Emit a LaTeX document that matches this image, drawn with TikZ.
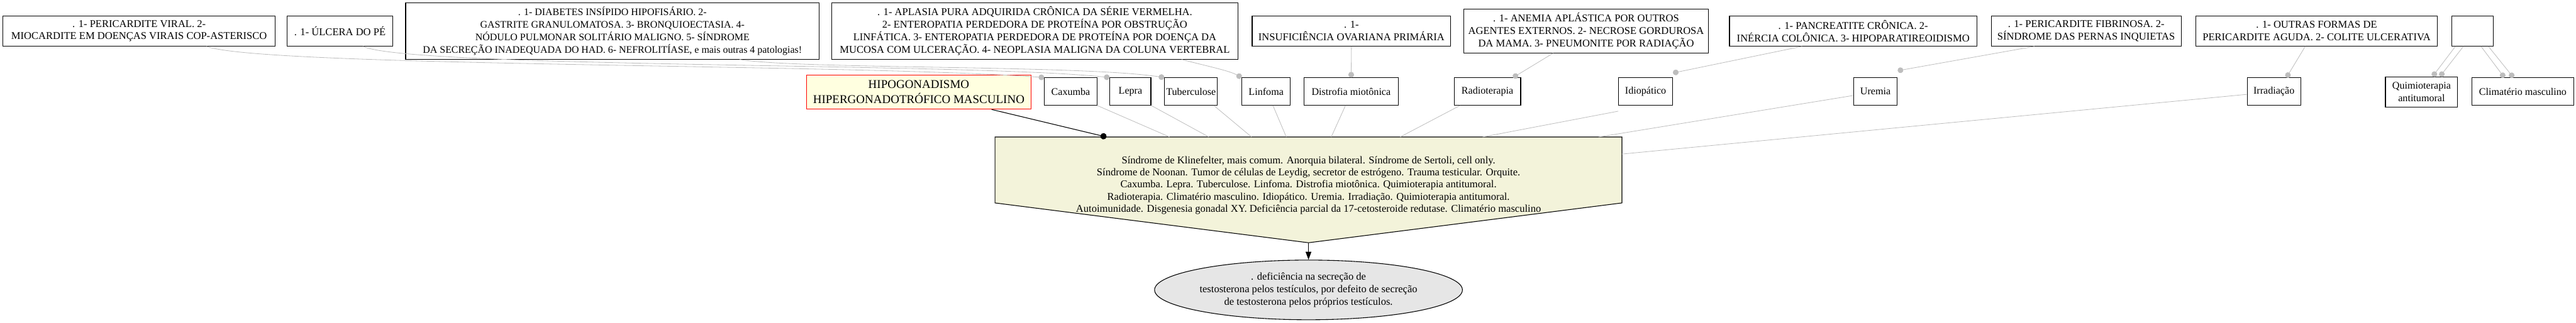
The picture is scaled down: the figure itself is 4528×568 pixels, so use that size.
\documentclass[tikz,border=0pt]{standalone}
\usepackage{fontspec}
\setmainfont{Liberation Serif}
\usetikzlibrary{shapes.geometric,arrows.meta}
\definecolor{edgegray}{HTML}{BDBDBD}
\definecolor{pentfill}{HTML}{F3F3DA}
\definecolor{hipofill}{HTML}{FFFFE0}
\definecolor{ellfill}{HTML}{E6E6E6}
\tikzset{
  topbox/.style={draw=black,line width=1.2pt,fill=white,inner sep=0pt,align=center,font=\fontsize{18.3}{22}\selectfont},
  midbox/.style={draw=black,line width=1.2pt,fill=white,inner sep=0pt,align=center,font=\fontsize{17.8}{22}\selectfont,minimum height=48pt},
  grayedge/.style={draw=edgegray,line width=0.9pt},
  dotedge/.style={grayedge,-{Circle[length=10pt,width=10pt,fill=edgegray,color=edgegray]}},
  blackedge/.style={draw=black,line width=1.2pt},
}
\begin{document}
\begin{tikzpicture}[x=1pt,y=-1pt]
\useasboundingbox (0,0) rectangle (4528,568);
% top row
\node[topbox,minimum width=479pt,minimum height=53pt] (t1) at (244.5,54.5) {. 1- PERICARDITE VIRAL. 2-\\MIOCARDITE EM DOENÇAS VIRAIS COP-ASTERISCO};
\node[topbox,minimum width=185pt,minimum height=53pt] (t2) at (597.5,54.5) {. 1- ÚLCERA DO PÉ};
\node[topbox,minimum width=727pt,minimum height=99pt,font=\fontsize{17.6}{22}\selectfont] (t3) at (1076.5,54.5) {. 1- DIABETES INSÍPIDO HIPOFISÁRIO. 2-\\GASTRITE GRANULOMATOSA. 3- BRONQUIOECTASIA. 4-\\NÓDULO PULMONAR SOLITÁRIO MALIGNO. 5- SÍNDROME\\DA SECREÇÃO INADEQUADA DO HAD. 6- NEFROLITÍASE, e mais outras 4 patologias!};
\node[topbox,minimum width=714pt,minimum height=99pt] (t4) at (1819,54.5) {. 1- APLASIA PURA ADQUIRIDA CRÔNICA DA SÉRIE VERMELHA.\\2- ENTEROPATIA PERDEDORA DE PROTEÍNA POR OBSTRUÇÃO\\LINFÁTICA. 3- ENTEROPATIA PERDEDORA DE PROTEÍNA POR DOENÇA DA\\MUCOSA COM ULCERAÇÃO. 4- NEOPLASIA MALIGNA DA COLUNA VERTEBRAL};
\node[topbox,minimum width=349pt,minimum height=53pt] (t5) at (2375.5,54.5) {. 1-\\INSUFICIÊNCIA OVARIANA PRIMÁRIA};
\node[topbox,minimum width=430pt,minimum height=77pt] (t6) at (2788,54.5) {. 1- ANEMIA APLÁSTICA POR OUTROS\\AGENTES EXTERNOS. 2- NECROSE GORDUROSA\\DA MAMA. 3- PNEUMONITE POR RADIAÇÃO};
\node[topbox,minimum width=435pt,minimum height=53pt] (t7) at (3257.5,54.5) {. 1- PANCREATITE CRÔNICA. 2-\\INÉRCIA COLÔNICA. 3- HIPOPARATIREOIDISMO};
\node[topbox,minimum width=334pt,minimum height=53pt] (t8) at (3667,54.5) {. 1- PERICARDITE FIBRINOSA. 2-\\SÍNDROME DAS PERNAS INQUIETAS};
\node[topbox,minimum width=424pt,minimum height=53pt] (t9) at (4072,54.5) {. 1- OUTRAS FORMAS DE\\PERICARDITE AGUDA. 2- COLITE ULCERATIVA};
\node[topbox,minimum width=73pt,minimum height=53pt] (t10) at (4346.5,54.5) {};
% second row
\node[draw=red,fill=hipofill,line width=1.2pt,inner sep=0pt,align=center,font=\fontsize{21}{27}\selectfont,minimum width=395pt,minimum height=60pt] (hipo) at (1615,162) {HIPOGONADISMO\\HIPERGONADOTRÓFICO MASCULINO};
\node[midbox,minimum width=92pt] (cax) at (1882,161) {Caxumba};
\node[midbox,minimum width=72pt] (lepra) at (1987,161) {Lepra};
\node[midbox,minimum width=93pt] (tuber) at (2093.5,161) {Tuberculose};
\node[midbox,minimum width=85pt] (linf) at (2225.5,161) {Linfoma};
\node[midbox,minimum width=166pt] (dist) at (2375,161) {Distrofia miotônica};
\node[midbox,minimum width=117pt] (radio) at (2614.5,161) {Radioterapia};
\node[midbox,minimum width=95pt] (idio) at (2892.5,161) {Idiopático};
\node[midbox,minimum width=77pt] (uremia) at (3296.5,161) {Uremia};
\node[midbox,minimum width=94pt] (irrad) at (3997,161) {Irradiação};
\node[midbox,minimum width=127pt,minimum height=53pt] (quimio) at (4256.5,161.5) {Quimioterapia\\antitumoral};
\node[midbox,minimum width=179pt] (clim) at (4434.5,161) {Climatério masculino};
% pentagon
\coordinate (pTL) at (1749,241);
\coordinate (pTR) at (2851,241);
\coordinate (pBR) at (2851,357);
\coordinate (pB) at (2300,427);
\coordinate (pBL) at (1749,357);
\draw[fill=pentfill,line width=1.2pt] (pTL) -- (pTR) -- (pBR) -- (pB) -- (pBL) -- cycle;
\node[inner sep=0pt,align=center,font=\fontsize{18.3}{21.5}\selectfont] (pent) at (2300,326) {Síndrome de Klinefelter, mais comum. Anorquia bilateral. Síndrome de Sertoli, cell only.\\Síndrome de Noonan. Tumor de células de Leydig, secretor de estrógeno. Trauma testicular. Orquite.\\Caxumba. Lepra. Tuberculose. Linfoma. Distrofia miotônica. Quimioterapia antitumoral.\\Radioterapia. Climatério masculino. Idiopático. Uremia. Irradiação. Quimioterapia antitumoral.\\Autoimunidade. Disgenesia gonadal XY. Deficiência parcial da 17-cetosteroide redutase. Climatério masculino};
\coordinate (pH) at (1945,241);
\coordinate (pC) at (2056,241);
\coordinate (pL) at (2125,241);
\coordinate (pT) at (2200,241);
\coordinate (pLi) at (2261,241);
\coordinate (pD) at (2340,241);
\coordinate (pR) at (2461,241);
\coordinate (pI) at (2606,241);
\coordinate (pU) at (2810,241);
\coordinate (pIr) at (2851,271);
% ellipse
\node[ellipse,draw=black,line width=1.2pt,fill=ellfill,inner sep=0pt,align=center,minimum width=444pt,minimum height=105pt,font=\fontsize{18.3}{21.7}\selectfont] (ell) at (2300,510) {. deficiência na secreção de\\testosterona pelos testículos, por defeito de secreção\\de testosterona pelos próprios testículos.};
% top-row edges
\draw[dotedge] ([xshift=118.5pt]t1.south) .. controls (460,118) and (1500,112) .. (cax.north west);
\draw[dotedge] ([xshift=40.5pt]t2.south) .. controls (720,120) and (1700,110) .. (lepra.north west);
\draw[dotedge] ([xshift=223.5pt]t3.south) .. controls (1400,122) and (1900,114) .. (tuber.north west);
\draw[dotedge] ([xshift=258pt]t4.south) .. controls (2120,116) and (2160,124) .. (linf.north west);
\draw[dotedge] (t5.south) -- (dist.north);
\draw[dotedge] ([xshift=-58pt]t6.south) -- ([xshift=-14pt]radio.north east);
\draw[dotedge] ([xshift=-90pt]t7.south) -- ([yshift=8pt]idio.north east);
\draw[dotedge] ([xshift=-91pt]t8.south) -- ([yshift=12pt]uremia.north east);
\draw[dotedge] ([xshift=-20pt]t9.south) -- ([xshift=22pt]irrad.north);
\draw[dotedge] ([xshift=-30.5pt]t10.south) -- ([xshift=19.5pt]quimio.north);
\draw[dotedge] ([xshift=-16.5pt]t10.south) -- ([xshift=32.5pt]quimio.north);
\draw[dotedge] ([xshift=14.5pt]t10.south) -- ([xshift=-32.5pt]clim.north);
\draw[dotedge] ([xshift=27.5pt]t10.south) -- ([xshift=-16.5pt]clim.north);
% second-row edges
\draw[grayedge] (cax.south east) -- (pC);
\draw[grayedge] (lepra.south east) -- (pL);
\draw[grayedge] ([xshift=-7pt]tuber.south east) -- (pT);
\draw[grayedge] ([xshift=12pt]linf.south) -- (pLi);
\draw[grayedge] ([xshift=-10pt]dist.south) -- (pD);
\draw[grayedge] ([xshift=11pt]radio.south west) -- (pR);
\draw[grayedge] ([yshift=-10pt]idio.south west) -- (pI);
\draw[grayedge] ([yshift=-7pt]uremia.west) -- (pU);
\draw[grayedge] ([yshift=-5pt]irrad.west) -- (pIr);
% black edges
\draw[blackedge,-{Circle[length=11pt,width=11pt]}] ([xshift=128pt]hipo.south) -- (pH);
\draw[blackedge,-{Triangle[length=14pt,width=10pt]}] (pB) -- (ell.north);
\end{tikzpicture}
\end{document}
